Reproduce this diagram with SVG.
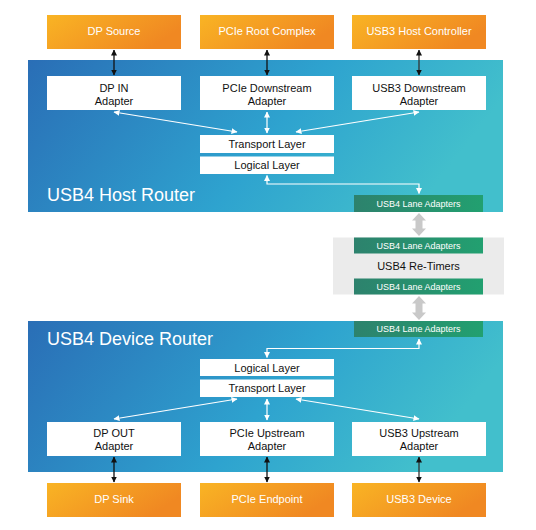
<svg xmlns="http://www.w3.org/2000/svg" width="536" height="530" viewBox="0 0 536 530">
<defs>
<linearGradient id="gOrange" x1="0" y1="0" x2="1" y2="0.4">
<stop offset="0" stop-color="#f9b424"/>
<stop offset="1" stop-color="#f08822"/>
</linearGradient>
<linearGradient id="gBlue" x1="0" y1="0" x2="1" y2="0.25">
<stop offset="0" stop-color="#2a6eb6"/>
<stop offset="0.6" stop-color="#2ea3cf"/>
<stop offset="1" stop-color="#42bfcc"/>
</linearGradient>
<linearGradient id="gGreen" x1="0" y1="0" x2="1" y2="0">
<stop offset="0" stop-color="#2d826d"/>
<stop offset="1" stop-color="#22a070"/>
</linearGradient>
<marker id="ab" viewBox="0 0 6 6" refX="5.5" refY="3" markerWidth="6" markerHeight="6" markerUnits="userSpaceOnUse" orient="auto-start-reverse">
<path d="M0,0 L6,3 L0,6 z" fill="#111"/>
</marker>
<marker id="aw" viewBox="0 0 6 6" refX="5.5" refY="3" markerWidth="6" markerHeight="6" markerUnits="userSpaceOnUse" orient="auto-start-reverse">
<path d="M0,0 L6,3 L0,6 z" fill="#fff"/>
</marker>
</defs>
<style>
text{font-family:"Liberation Sans",Arial,sans-serif;text-anchor:middle}
.or{fill:url(#gOrange)}
.ot{fill:#fff;font-size:11px}
.rt{fill:url(#gBlue)}
.rtt{fill:#fff;font-size:18px;text-anchor:start}
.wb{fill:#fff}
.wt{fill:#111;font-size:11px}
.ln{fill:url(#gGreen)}
.lt{fill:#fff;font-size:9px}
.bk{stroke:#111;stroke-width:1.3;fill:none;marker-start:url(#ab);marker-end:url(#ab)}
.wh{stroke:#fff;stroke-width:1.2;fill:none;marker-start:url(#aw);marker-end:url(#aw)}
.gr{fill:#c9c9c9}
</style>
<rect width="536" height="530" fill="#fff"/>

<g id="dp-source"><rect class="or" x="47" y="15" width="134" height="34"/><text class="ot" x="114" y="35">DP Source</text></g>
<g id="pcie-root"><rect class="or" x="200" y="15" width="134" height="34"/><text class="ot" x="267" y="35">PCIe Root Complex</text></g>
<g id="usb3-host"><rect class="or" x="352" y="15" width="134" height="34"/><text class="ot" x="419" y="35">USB3 Host Controller</text></g>

<g id="host-router">
<rect class="rt" x="28" y="60" width="475" height="152"/>
<text class="rtt" x="47" y="201">USB4 Host Router</text>
</g>
<g id="dp-in"><rect class="wb" x="47" y="76" width="134" height="34"/><text class="wt" x="114" y="92">DP IN</text><text class="wt" x="114" y="104.5">Adapter</text></g>
<g id="pcie-down"><rect class="wb" x="200" y="76" width="134" height="34"/><text class="wt" x="267" y="92">PCIe Downstream</text><text class="wt" x="267" y="104.5">Adapter</text></g>
<g id="usb3-down"><rect class="wb" x="352" y="76" width="134" height="34"/><text class="wt" x="419" y="92">USB3 Downstream</text><text class="wt" x="419" y="104.5">Adapter</text></g>
<g id="host-transport"><rect class="wb" x="200" y="135" width="134" height="18"/><text class="wt" x="267" y="148">Transport Layer</text></g>
<g id="host-logical"><rect class="wb" x="200" y="156.5" width="134" height="17.5"/><text class="wt" x="267" y="169">Logical Layer</text></g>
<g id="host-lane"><rect class="ln" x="354" y="195" width="129" height="17"/><text class="lt" x="418.5" y="206.5">USB4 Lane Adapters</text></g>

<g id="retimers">
<rect x="333" y="237.5" width="171" height="57" fill="#ebebeb"/>
<rect class="ln" x="354" y="237.5" width="129" height="16"/><text class="lt" x="418.5" y="248.5">USB4 Lane Adapters</text>
<text class="wt" x="418.5" y="269.5">USB4 Re-Timers</text>
<rect class="ln" x="354" y="278.5" width="129" height="16"/><text class="lt" x="418.5" y="289.5">USB4 Lane Adapters</text>
</g>

<g id="device-router">
<rect class="rt" x="28" y="321" width="475" height="151"/>
<text class="rtt" x="47" y="344.5">USB4 Device Router</text>
</g>
<g id="device-lane"><rect class="ln" x="354" y="321" width="129" height="16"/><text class="lt" x="418.5" y="332">USB4 Lane Adapters</text></g>
<g id="device-logical"><rect class="wb" x="200" y="359" width="134" height="17"/><text class="wt" x="267" y="371.5">Logical Layer</text></g>
<g id="device-transport"><rect class="wb" x="200" y="379.5" width="134" height="17.5"/><text class="wt" x="267" y="392">Transport Layer</text></g>
<g id="dp-out"><rect class="wb" x="47" y="422" width="134" height="34"/><text class="wt" x="114" y="437">DP OUT</text><text class="wt" x="114" y="449.5">Adapter</text></g>
<g id="pcie-up"><rect class="wb" x="200" y="422" width="134" height="34"/><text class="wt" x="267" y="437">PCIe Upstream</text><text class="wt" x="267" y="449.5">Adapter</text></g>
<g id="usb3-up"><rect class="wb" x="352" y="422" width="134" height="34"/><text class="wt" x="419" y="437">USB3 Upstream</text><text class="wt" x="419" y="449.5">Adapter</text></g>

<g id="dp-sink"><rect class="or" x="47" y="483" width="134" height="34"/><text class="ot" x="114" y="503">DP Sink</text></g>
<g id="pcie-endpoint"><rect class="or" x="200" y="483" width="134" height="34"/><text class="ot" x="267" y="503">PCIe Endpoint</text></g>
<g id="usb3-device"><rect class="or" x="352" y="483" width="134" height="34"/><text class="ot" x="419" y="503">USB3 Device</text></g>

<g id="connectors">
<line class="bk" x1="114" y1="50" x2="114" y2="75"/>
<line class="bk" x1="267" y1="50" x2="267" y2="75"/>
<line class="bk" x1="419" y1="50" x2="419" y2="75" style="stroke:#333"/>
<line class="wh" x1="114" y1="112" x2="237" y2="132"/>
<line class="wh" x1="267" y1="112" x2="267" y2="133"/>
<line class="wh" x1="419" y1="112" x2="296" y2="132"/>
<polyline class="wh" points="267,175.5 267,184 419,184 419,193.5"/>
<polygon class="gr" points="419,213 426,220.5 422.5,220.5 422.5,228.5 426,228.5 419,236 412,228.5 415.5,228.5 415.5,220.5 412,220.5"/>
<polygon class="gr" points="419,296 426,303.5 422.5,303.5 422.5,312.5 426,312.5 419,320 412,312.5 415.5,312.5 415.5,303.5 412,303.5"/>
<polyline class="wh" points="419,339 419,348.5 267,348.5 267,357.5"/>
<line class="wh" x1="237" y1="399" x2="114" y2="419"/>
<line class="wh" x1="267" y1="399" x2="267" y2="420"/>
<line class="wh" x1="296" y1="399" x2="419" y2="419"/>
<line class="bk" x1="114" y1="457" x2="114" y2="482"/>
<line class="bk" x1="267" y1="457" x2="267" y2="482"/>
<line class="bk" x1="419" y1="457" x2="419" y2="482" style="stroke:#333"/>
</g>
</svg>
